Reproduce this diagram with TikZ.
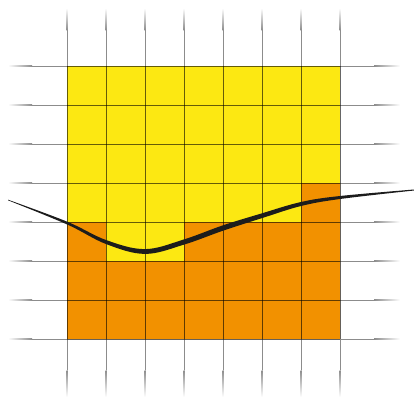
\documentclass[tikz,border=0pt]{standalone}
\definecolor{gyellow}{RGB}{252,232,18}
\definecolor{gorange}{RGB}{242,145,0}
\definecolor{gline}{RGB}{140,140,140}
\definecolor{curvec}{RGB}{28,28,28}
\tikzset{
  innerline/.style={draw=black, draw opacity=0.6, line width=0.8pt},
  outerline/.style={fill=gline},
}
\begin{document}
\begin{tikzpicture}[x=1pt,y=-1pt]
\useasboundingbox (0,0) rectangle (414,397);
\fill[white] (0,0) rectangle (414,397);
% outer faded grid lines
\foreach \i in {0,...,7}{
  \pgfmathsetmacro\xx{67+39*\i}
  % vertical: above and below the square
  \shade[top color=white,bottom color=gline] (\xx-0.5,8) rectangle (\xx+0.5,30);
  \fill[outerline] (\xx-0.5,30) rectangle (\xx+0.5,66);
  \fill[outerline] (\xx-0.5,339) rectangle (\xx+0.5,370);
  \shade[top color=gline,bottom color=white] (\xx-0.5,370) rectangle (\xx+0.5,397);
  % horizontal: left and right of the square
  \pgfmathsetmacro\yy{66+39*\i}
  \shade[left color=white,right color=gline] (8,\yy-0.5) rectangle (32,\yy+0.5);
  \fill[outerline] (32,\yy-0.5) rectangle (67,\yy+0.5);
  \fill[outerline] (340,\yy-0.5) rectangle (374,\yy+0.5);
  \shade[left color=gline,right color=white] (374,\yy-0.5) rectangle (400,\yy+0.5);
}
% coloured cells
\fill[gyellow] (67,66) rectangle (340,339);
\fill[gorange] (301,183) rectangle (340,222)
               (67,222) rectangle (106,261)
               (184,222) rectangle (340,261)
               (67,261) rectangle (340,339);
% inner grid
\foreach \i in {0,...,7}{
  \draw[innerline] (67+39*\i,66) -- (67+39*\i,339);
  \draw[innerline] (67,66+39*\i) -- (340,66+39*\i);
}
% tapered curve
\fill[curvec]
  plot[smooth,tension=0.6] coordinates {(8,199.7) (67,221.6) (106,240) (145,249.1) (184,239.4) (223,225.3) (262,213.3) (301,202) (340,196) (414,189.5)}
  -- plot[smooth,tension=0.6] coordinates {(414,190.5) (340,199) (301,206) (262,218.1) (223,230.7) (184,244.6) (145,253.9) (106,244) (67,224.4) (8,200.3)}
  -- cycle;
\end{tikzpicture}
\end{document}
